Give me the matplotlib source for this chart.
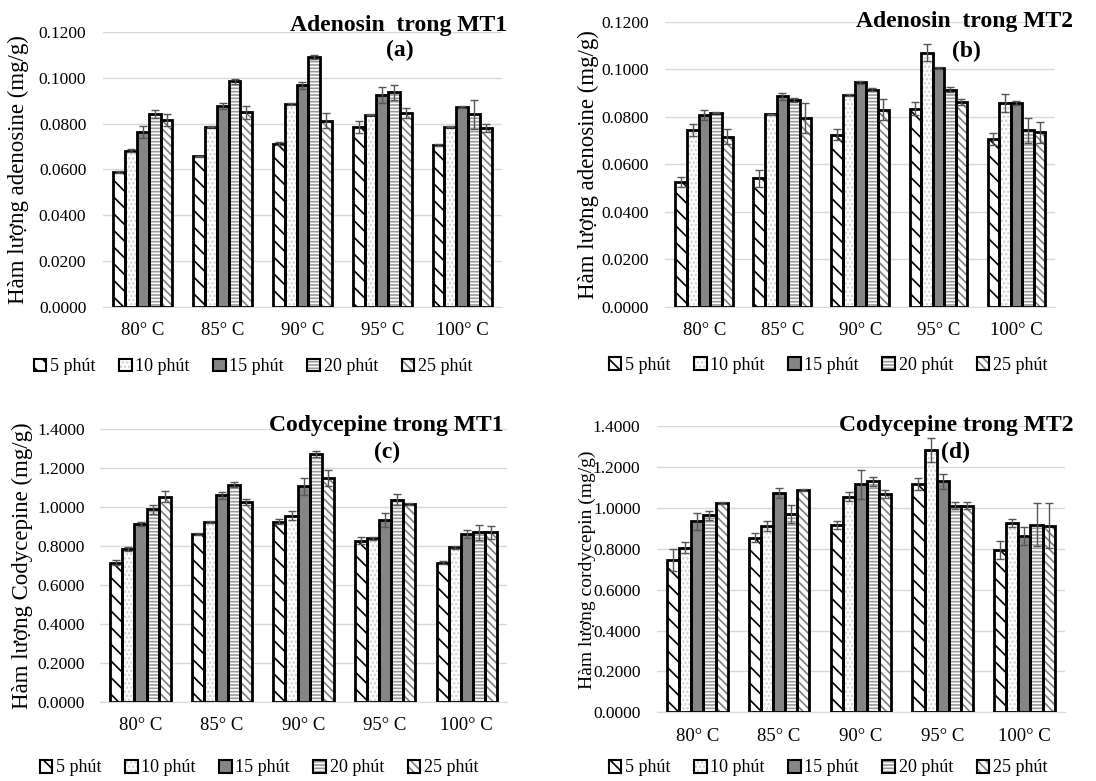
import numpy as np
import matplotlib
matplotlib.use("Agg")
import matplotlib.pyplot as plt
from matplotlib.patches import Patch

plt.rcParams['font.family'] = ['Liberation Serif', 'DejaVu Serif']
plt.rcParams['hatch.linewidth'] = 1.2

categories = ['80° C', '85° C', '90° C', '95° C', '100° C']
series = ['5 phút', '10 phút', '15 phút', '20 phút', '25 phút']

# (a) Adenosin trong MT1  -- rows = series, cols = temperature
a_val = [[0.0589, 0.0657, 0.0713, 0.0785, 0.0707],
         [0.0682, 0.0787, 0.0886, 0.0839, 0.0787],
         [0.0764, 0.0876, 0.0967, 0.0925, 0.0873],
         [0.0842, 0.0985, 0.1091, 0.0937, 0.0841],
         [0.0817, 0.0849, 0.0813, 0.0847, 0.0780]]
a_err = [[0.0006, 0.0003, 0.0008, 0.0027, 0.0003],
         [0.0006, 0.0003, 0.0006, 0.0003, 0.0003],
         [0.0027, 0.0014, 0.0016, 0.0035, 0.0003],
         [0.0019, 0.0010, 0.0010, 0.0032, 0.0064],
         [0.0027, 0.0027, 0.0034, 0.0021, 0.0017]]

# (b) Adenosin trong MT2
b_val = [[0.0524, 0.0542, 0.0724, 0.0835, 0.0707],
         [0.0744, 0.0811, 0.0893, 0.1071, 0.0858],
         [0.0807, 0.0887, 0.0945, 0.1006, 0.0858],
         [0.0818, 0.0870, 0.0915, 0.0914, 0.0744],
         [0.0717, 0.0797, 0.0831, 0.0862, 0.0735]]
b_err = [[0.0021, 0.0036, 0.0023, 0.0027, 0.0026],
         [0.0026, 0.0003, 0.0003, 0.0034, 0.0037],
         [0.0020, 0.0015, 0.0007, 0.0003, 0.0008],
         [0.0003, 0.0009, 0.0007, 0.0010, 0.0053],
         [0.0031, 0.0063, 0.0043, 0.0014, 0.0044]]

# (c) Codycepine trong MT1
c_val = [[0.714, 0.861, 0.924, 0.827, 0.715],
         [0.784, 0.924, 0.955, 0.839, 0.792],
         [0.912, 1.059, 1.106, 0.933, 0.863],
         [0.988, 1.114, 1.270, 1.037, 0.869],
         [1.053, 1.023, 1.148, 1.015, 0.869]]
c_err = [[0.012, 0.005, 0.014, 0.019, 0.007],
         [0.012, 0.005, 0.022, 0.008, 0.009],
         [0.009, 0.017, 0.044, 0.038, 0.021],
         [0.022, 0.012, 0.014, 0.027, 0.038],
         [0.026, 0.015, 0.040, 0.006, 0.033]]

# (d) Codycepine trong MT2
d_val = [[0.746, 0.855, 0.919, 1.118, 0.795],
         [0.806, 0.914, 1.056, 1.284, 0.927],
         [0.935, 1.074, 1.116, 1.131, 0.863],
         [0.964, 0.971, 1.131, 1.012, 0.919],
         [1.025, 1.088, 1.069, 1.012, 0.914]]
d_err = [[0.052, 0.021, 0.019, 0.027, 0.044],
         [0.026, 0.024, 0.021, 0.057, 0.018],
         [0.042, 0.024, 0.069, 0.037, 0.046],
         [0.020, 0.044, 0.023, 0.018, 0.106],
         [0.006, 0.005, 0.021, 0.018, 0.111]]

# face colour, hatch, hatch colour for each series
styles = [('white', '\\\\', 'black'),
          ('white', '....', '#d0d0d0'),
          ('#858585', '', '#858585'),
          ('white', '-----', '#9a9a9a'),
          ('white', '\\\\\\\\', '#808080')]

W, H = 1096, 781
fig = plt.figure(figsize=(W / 100, H / 100), dpi=100)

# axes rect, ymax, ystep, ylabel, ylabel size, ylabel x, title, subtitle,
# title centre (px), subtitle centre (px), legend centre (px), tick pad
panels = [
    (a_val, a_err, [0.094, 0.607, 0.364, 0.352], 0.12, 0.02,
     'Hàm lượng adenosine (mg/g)', 16.5, -0.185,
     'Adenosin  trong MT1', '(a)', (399, 25), (400, 50), (253, 367), 12),
    (b_val, b_err, [0.607, 0.607, 0.356, 0.365], 0.12, 0.02,
     'Hàm lượng adenosine (mg/g)', 16.5, -0.169,
     'Adenosin  trong MT2', '(b)', (964, 22), (966, 51), (828, 365), 12),
    (c_val, c_err, [0.091, 0.101, 0.372, 0.350], 1.4, 0.2,
     'Hàm lượng Codycepine (mg/g)', 16.5, -0.164,
     'Codycepine trong MT1', '(c)', (386, 426), (387, 452), (259, 768), 10.5),
    (d_val, d_err, [0.599, 0.088, 0.373, 0.366], 1.4, 0.2,
     'Hàm lượng cordycepin (mg/g)', 14, -0.149,
     'Codycepine trong MT2', '(d)', (956, 426), (956, 452), (828, 768), 11.5),
]

x = np.arange(len(categories))
w = 0.148
for (vals, errs, pos, ymax, ystep, ylab, ylfs, ylx,
     title, sub, tpos, spos, lpos, tpad) in panels:
    ax = fig.add_axes(pos)
    for i in range(len(series)):
        fc, hatch, hc = styles[i]
        xs = x + (i - 2) * w
        ax.bar(xs, vals[i], w, color=fc, hatch=hatch, edgecolor=hc, linewidth=0, zorder=2)
        ax.bar(xs, vals[i], w, fill=False, edgecolor='black', linewidth=2.0, zorder=3)
        ax.errorbar(xs, vals[i], yerr=errs[i], fmt='none', ecolor='#555555',
                    elinewidth=1, capsize=3, capthick=1, zorder=4)
    ax.set_xlim(-0.5, 4.5)
    ax.set_ylim(0, ymax)
    ax.set_yticks(np.arange(0, ymax + ystep / 2, ystep))
    ax.yaxis.set_major_formatter(matplotlib.ticker.FormatStrFormatter('%.4f'))
    ax.set_xticks(x)
    ax.set_xticklabels(categories, fontsize=13.5)
    ax.tick_params(axis='y', labelsize=12.5, length=0, pad=tpad)
    ax.tick_params(axis='x', length=0, pad=11)
    ax.grid(axis='y', color='#d9d9d9', linewidth=1, zorder=0)
    ax.set_axisbelow(True)
    for s in ['top', 'right', 'left']:
        ax.spines[s].set_visible(False)
    ax.spines['bottom'].set_color('#d9d9d9')
    ax.set_ylabel(ylab, fontsize=ylfs)
    ax.yaxis.set_label_coords(ylx, 0.5)
    fig.text(tpos[0] / W, 1 - tpos[1] / H, title, ha='center', va='center',
             fontsize=17, fontweight='bold')
    fig.text(spos[0] / W, 1 - spos[1] / H, sub, ha='center', va='center',
             fontsize=17, fontweight='bold')

    handles = []
    for fc, hatch, hc in styles:
        handles.append((Patch(facecolor=fc, hatch=hatch, edgecolor=hc, linewidth=0),
                        Patch(fill=False, edgecolor='black', linewidth=1.5)))
    fig.legend(handles, series, loc='center', ncol=5, frameon=False,
               bbox_to_anchor=(lpos[0] / W, 1 - lpos[1] / H), fontsize=13,
               handlelength=0.7, handleheight=0.7, handletextpad=0.2, columnspacing=1.3)

fig.savefig('out.png', dpi=100)
